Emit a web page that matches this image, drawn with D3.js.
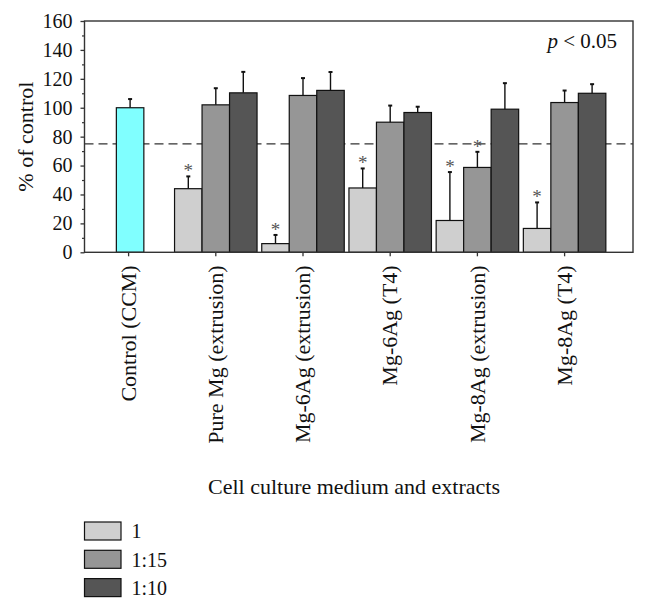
<!DOCTYPE html>
<html>
<head>
<meta charset="utf-8">
<script src="https://cdn.jsdelivr.net/npm/d3@7"></script>
<style>
  html, body { margin: 0; padding: 0; background: #fff; }
  svg { display: block; }
  text { font-family: "Liberation Serif", "DejaVu Serif", serif; fill: #111; }
</style>
</head>
<body>
<svg id="chart" width="648" height="611"></svg>
<script>
// ---- data ----
const categories = ["Control (CCM)", "Pure Mg (extrusion)", "Mg-6Ag (extrusion)", "Mg-6Ag (T4)", "Mg-8Ag (extrusion)", "Mg-8Ag (T4)"];
const seriesNames = ["1", "1:15", "1:10"];
const controlValue = 100;
const controlError = 6;
const sample = ["Pure Mg (extrusion)", "Mg-6Ag (extrusion)", "Mg-6Ag (T4)", "Mg-8Ag (extrusion)", "Mg-8Ag (T4)"];
const values1 = [44, 6, 44.5, 22, 16.5];
const errors1 = [8.5, 6, 13.5, 33.5, 18];
const values115 = [102, 108.5, 90, 58.7, 103.6];
const errors115 = [11.5, 12, 11.5, 10.8, 8.3];
const values110 = [110.3, 112, 96.7, 99, 110];
const errors110 = [14.5, 12.7, 4, 18, 6.3];
const significant1 = [true, true, true, true, true];
const significant115 = [false, false, false, true, false];
const significant110 = [false, false, false, false, false];
const thresholdValue = 75;
const yTicks = [0, 20, 40, 60, 80, 100, 120, 140, 160];
const yMinorTicks = [10, 30, 50, 70, 90, 110, 130, 150];
const annotation = "< 0.05";
const xTitle = "Cell culture medium and extracts";
const yTitle = "% of control";

// ---- build table ----
const seriesValues = [values1, values115, values110];
const seriesErrors = [errors1, errors115, errors110];
const seriesSig = [significant1, significant115, significant110];
const colors = {"1": "#cfcfcf", "1:15": "#969696", "1:10": "#555555"};
const bars = [];
sample.forEach((cat, i) => {
  seriesNames.forEach((s, j) => {
    bars.push({cat, series: s, value: seriesValues[j][i], err: seriesErrors[j][i], sig: seriesSig[j][i]});
  });
});

// ---- layout ----
const svg = d3.select("#chart");
const plotLeft = 84.5, plotRight = 633, plotTop = 21, plotBottom = 252.3;

const x = d3.scaleBand().domain(categories).range([85, 608.2]).paddingInner(0).paddingOuter(0);
const xInner = d3.scaleBand().domain(seriesNames).range([-41.25, 41.25]).padding(0);
const y = d3.scaleLinear().domain([0, 160]).range([plotBottom, plotTop]);
const cx = c => x(c) + x.bandwidth() / 2;

// dashed threshold line
svg.append("line")
  .attr("x1", plotLeft).attr("x2", plotRight)
  .attr("y1", y(thresholdValue)).attr("y2", y(thresholdValue))
  .attr("stroke", "#333").attr("stroke-width", 1.1)
  .attr("stroke-dasharray", "9,5");

// error bars helper
function errorBar(g, xc, v, e) {
  g.append("line").attr("x1", xc).attr("x2", xc)
    .attr("y1", y(v)).attr("y2", y(v + e))
    .attr("stroke", "#111").attr("stroke-width", 1.4);
  g.append("line").attr("x1", xc - 2).attr("x2", xc + 2)
    .attr("y1", y(v + e)).attr("y2", y(v + e))
    .attr("stroke", "#111").attr("stroke-width", 2);
}

const gBars = svg.append("g");
// control bar
const ctrlX = cx(categories[0]) + 1.5;
gBars.append("rect")
  .attr("x", ctrlX - xInner.bandwidth() / 2)
  .attr("y", y(controlValue))
  .attr("width", xInner.bandwidth())
  .attr("height", y(0) - y(controlValue))
  .attr("fill", "#80ffff").attr("stroke", "#111").attr("stroke-width", 1.2);
errorBar(gBars, ctrlX, controlValue, controlError);

// sample bars
bars.forEach(d => {
  const x0 = cx(d.cat) + xInner(d.series);
  gBars.append("rect")
    .attr("x", x0).attr("y", y(d.value))
    .attr("width", xInner.bandwidth())
    .attr("height", y(0) - y(d.value))
    .attr("fill", colors[d.series]).attr("stroke", "#111").attr("stroke-width", 1.2);
});
bars.forEach(d => {
  const xc = cx(d.cat) + xInner(d.series) + xInner.bandwidth() / 2;
  errorBar(gBars, xc, d.value, d.err);
  if (d.sig) {
    gBars.append("text")
      .attr("x", xc).attr("y", y(d.value + d.err) + 1)
      .attr("text-anchor", "middle")
      .attr("font-size", 19)
      .style("fill", "#555")
      .text("*");
  }
});

// frame
svg.append("rect")
  .attr("x", plotLeft).attr("y", plotTop)
  .attr("width", plotRight - plotLeft).attr("height", plotBottom - plotTop)
  .attr("fill", "none").attr("stroke", "#333").attr("stroke-width", 1.4);

// y axis
const yAxis = d3.axisLeft(y).tickValues(yTicks).tickSize(4).tickPadding(8).tickFormat(d3.format("d"));
const gy = svg.append("g").attr("transform", `translate(${plotLeft},0)`).call(yAxis);
gy.select(".domain").remove();
gy.selectAll(".tick line").attr("stroke", "#333").attr("stroke-width", 1.3);
gy.selectAll(".tick text").attr("font-size", 20).attr("font-family", "Liberation Serif").attr("fill", "#111");
const gyMinor = svg.append("g").attr("transform", `translate(${plotLeft},0)`)
  .call(d3.axisLeft(y).tickValues(yMinorTicks).tickSize(2.5).tickFormat(""));
gyMinor.select(".domain").remove();
gyMinor.selectAll(".tick line").attr("stroke", "#333").attr("stroke-width", 1.2);

// x axis
const xAxis = d3.axisBottom(x).tickSize(4).tickPadding(0);
const gx = svg.append("g").attr("transform", `translate(0,${plotBottom})`).call(xAxis);
gx.select(".domain").remove();
gx.selectAll(".tick line").attr("stroke", "#333").attr("stroke-width", 1.3);
gx.selectAll(".tick text")
  .attr("font-size", 22).attr("font-family", "Liberation Serif").attr("fill", "#111")
  .attr("text-anchor", "end")
  .attr("transform", "rotate(-90)")
  .attr("x", -13).attr("y", 0).attr("dy", "0.33em");

// y title
svg.append("text")
  .attr("transform", `translate(33,${(plotTop + plotBottom) / 2}) rotate(-90)`)
  .attr("text-anchor", "middle").attr("font-size", 22)
  .text(yTitle);

// x title
svg.append("text")
  .attr("x", 354).attr("y", 494)
  .attr("text-anchor", "middle").attr("font-size", 22)
  .text(xTitle);

// annotation
const ann = svg.append("text").attr("x", 617).attr("y", 48)
  .attr("text-anchor", "end").attr("font-size", 21);
ann.append("tspan").attr("font-style", "italic").text("p");
ann.append("tspan").text(" " + annotation);

// legend
const legend = svg.append("g").attr("transform", "translate(84.5,522)");
seriesNames.forEach((s, i) => {
  const g = legend.append("g").attr("transform", `translate(0,${i * 28.3})`);
  g.append("rect").attr("width", 36.5).attr("height", 18)
    .attr("fill", colors[s]).attr("stroke", "#111").attr("stroke-width", 1.2);
  g.append("text").attr("x", 47).attr("y", 9).attr("dy", "0.36em")
    .attr("font-size", 20).text(s);
});
</script>
</body>
</html>
